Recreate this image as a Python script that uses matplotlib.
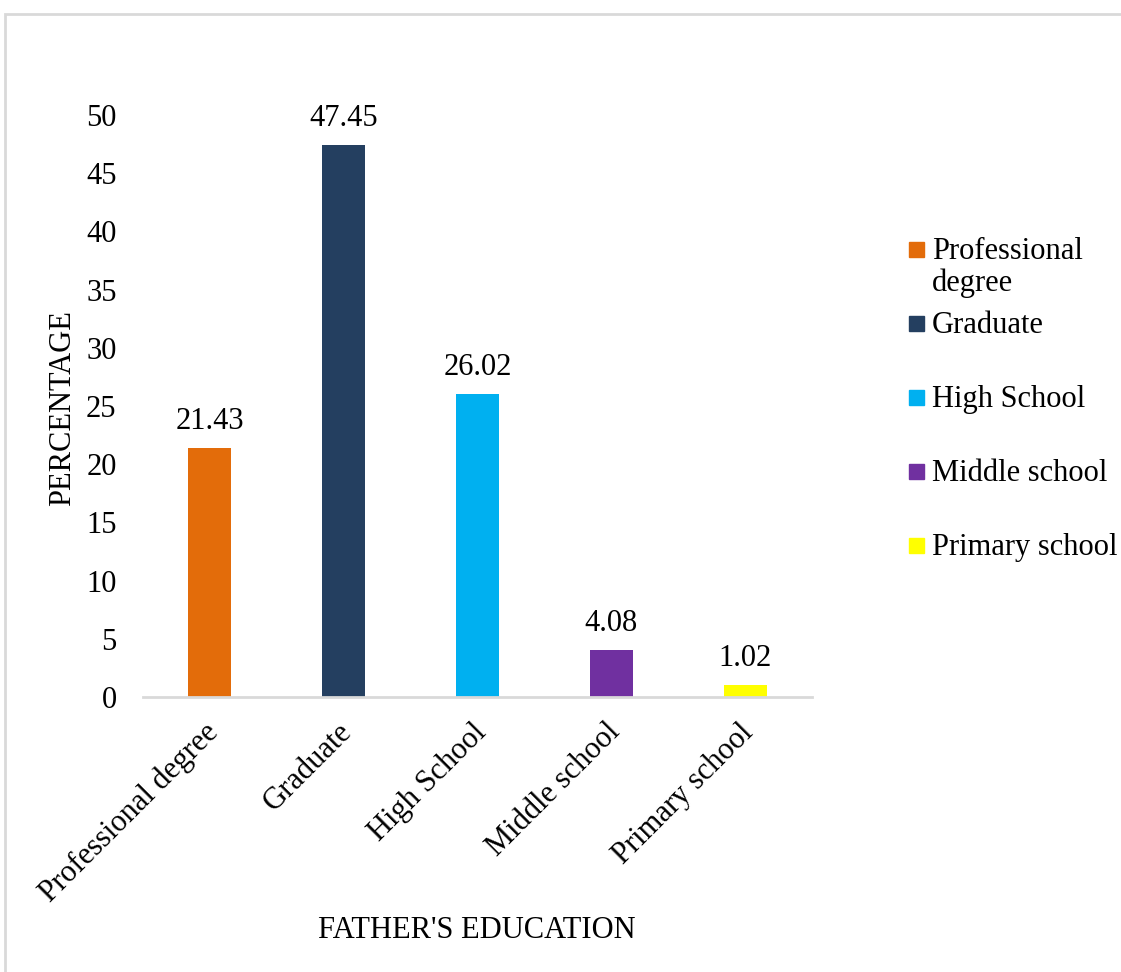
import matplotlib.pyplot as plt
import matplotlib.transforms as mtransforms
from matplotlib.patches import Rectangle

# father's education distribution (%)
categories = ['Professional degree', 'Graduate', 'High School', 'Middle school', 'Primary school']
legend_labels = ['Professional\ndegree', 'Graduate', 'High School', 'Middle school', 'Primary school']
values = [21.43, 47.45, 26.02, 4.08, 1.02]
colors = ['#E36C0A', '#243F60', '#00B0F0', '#7030A0', '#FFFF00']

plt.rcParams['font.family'] = ['Liberation Serif', 'DejaVu Serif']
fs = 22

W, H = 1121, 972
fig = plt.figure(figsize=(W / 100, H / 100), dpi=100)
fig.patch.set_facecolor('white')

# light grey frame round the chart area
fig.patches.append(Rectangle((5 / W, -0.05), 1.2, 1 - 14 / H + 0.05,
                             transform=fig.transFigure, fill=False,
                             edgecolor='#D9D9D9', linewidth=2))

ax = fig.add_axes([143 / W, 1 - 697 / H, (812 - 143) / W, (697 - 115) / H])
x = list(range(len(categories)))
bars = ax.bar(x, values, width=0.32, color=colors)
for b, v in zip(bars, values):
    ax.text(b.get_x() + b.get_width() / 2, v + 1.0, f'{v:.2f}',
            ha='center', va='bottom', fontsize=fs)

ax.set_xlim(-0.5, len(categories) - 0.5)
ax.set_ylim(0, 50)
ax.set_yticks(range(0, 51, 5))
ax.tick_params(axis='y', length=0, pad=19, labelsize=fs)
ax.tick_params(axis='x', length=0, pad=15, labelsize=fs)
ax.set_xticks(x)
ax.set_xticklabels(categories, rotation=45, ha='right', va='top', rotation_mode='anchor')
shift = mtransforms.ScaledTranslation(-6 / 100, 0, fig.dpi_scale_trans)
for lab in ax.get_xticklabels():
    lab.set_transform(lab.get_transform() + shift)
for s in ['top', 'right', 'left']:
    ax.spines[s].set_visible(False)
ax.spines['bottom'].set_color('#D9D9D9')
ax.spines['bottom'].set_linewidth(2)

fig.text(63 / W, 1 - 408 / H, 'PERCENTAGE', rotation=90, ha='center', va='center', fontsize=fs)
fig.text(477 / W, 1 - 930 / H, "FATHER'S EDUCATION", ha='center', va='center', fontsize=fs)

# legend drawn by hand: evenly spaced slots, square level with the first line
for i, (lab, col) in enumerate(zip(legend_labels, colors)):
    base = 259 + 74 * i
    fig.patches.append(Rectangle((909 / W, 1 - (base - 2) / H), 15 / W, 15 / H,
                                 transform=fig.transFigure, color=col))
    fig.text(932 / W, 1 - (base - 22) / H, lab, ha='left', va='top',
             fontsize=fs, linespacing=1.1)

fig.savefig('out.png', dpi=100)
